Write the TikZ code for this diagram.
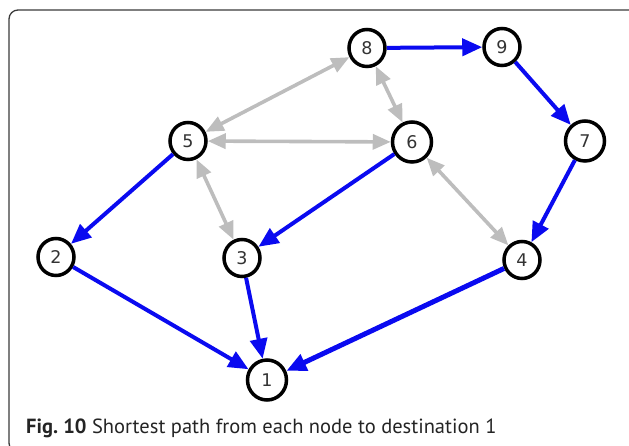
\documentclass[tikz,border=0pt]{standalone}
\usepackage{fontspec}
\setmainfont{PT Sans}
\newfontfamily\numfont{DejaVu Sans}
\usetikzlibrary{arrows.meta,shapes.geometric}
\definecolor{pathblue}{HTML}{0A0AF0}
\definecolor{linkgray}{HTML}{BDBDBD}
\definecolor{framegray}{HTML}{3A3A3A}
\definecolor{labelgray}{HTML}{333333}
\begin{document}
\begin{tikzpicture}[x=1pt,y=-1pt,
  vertex/.style={ellipse,draw=black,line width=3.5pt,fill=white,
    minimum width=36pt,minimum height=37pt,inner sep=0pt,
    font=\numfont\fontsize{17.5}{17.5}\selectfont,text=labelgray},
  wide/.style={minimum width=39pt,minimum height=40pt},
  route/.style={draw=pathblue,line width=4pt,-{Triangle[length=20pt,width=17pt]}},
  link/.style={draw=linkgray,line width=3.6pt,
    {Triangle[length=18pt,width=15pt]}-{Triangle[length=18pt,width=15pt]}}]
\useasboundingbox (0,0) rectangle (629,446);
% outer frame, partly cut by the page edges
\begin{scope}
  \clip (0,0) rectangle (629,446);
  \draw[framegray,line width=1.3pt,rounded corners=9pt] (9,10) rectangle (640,452);
\end{scope}

% network nodes
\node[vertex] (n8) at (367,48) {8};
\node[vertex] (n9) at (502,47) {9};
\node[vertex] (n5) at (188,141) {5};
\node[vertex,wide] (n6) at (412,142) {6};
\node[vertex,wide] (n7) at (585,141) {7};
\node[vertex] (n2) at (56,257) {2};
\node[vertex] (n3) at (242,258) {3};
\node[vertex] (n4) at (522,260) {4};
\node[vertex,wide] (n1) at (267,380) {1};

% two-way links
\draw[link] (n5) -- (n8);
\draw[link] (n8) -- (n6);
\draw[link] (n5) -- (n6);
\draw[link] (n5) -- (n3);
\draw[link] (n6) -- (n4);

% shortest-path tree towards node 1
\draw[route] (n8) -- (n9);
\draw[route] (n9) -- (n7);
\draw[route] (n7) -- (n4);
\draw[route] (n6) -- (n3);
\draw[route] (n5) -- (n2);
\draw[route] (n2) -- (n1);
\draw[route] (n3) -- (n1);
\draw[route,line width=5pt] (n4) -- (n1);

% caption
\node[anchor=west,inner sep=0pt,font=\fontsize{20.5}{22}\selectfont,text=labelgray!70!black]
  (cap) at (26,428) {\textbf{Fig.\ 10} Shortest path from each node to destination 1};
\end{tikzpicture}
\end{document}
